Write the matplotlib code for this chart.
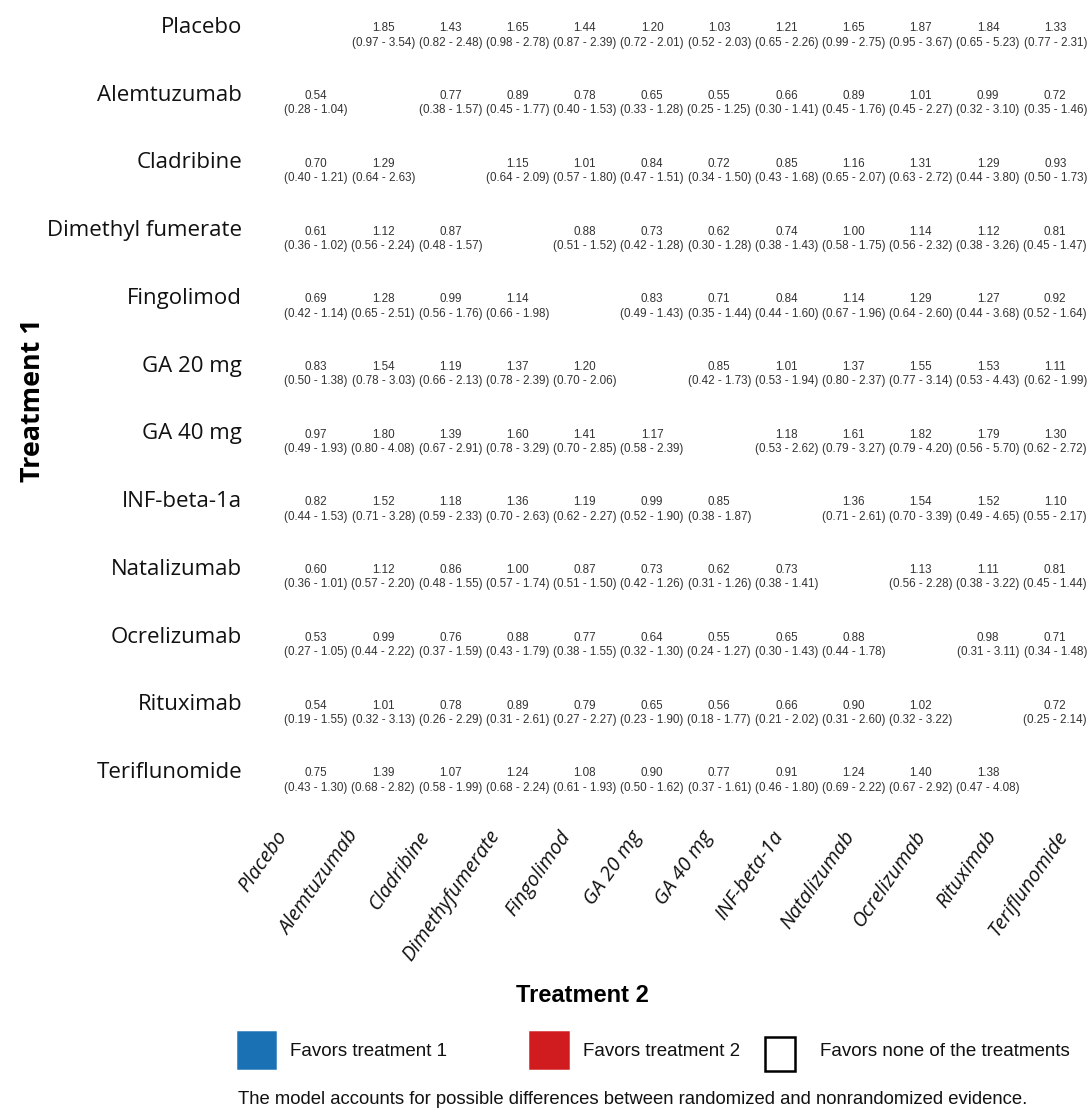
import matplotlib
matplotlib.use("Agg")
import matplotlib.pyplot as plt
from matplotlib.patches import Rectangle
from matplotlib.colors import ListedColormap
import numpy as np

# ---- league table data -------------------------------------------------
treatments = ["Placebo", "Alemtuzumab", "Cladribine", "Dimethyl fumerate",
              "Fingolimod", "GA 20 mg", "GA 40 mg", "INF-beta-1a",
              "Natalizumab", "Ocrelizumab", "Rituximab", "Teriflunomide"]

col_labels = ["Placebo", "Alemtuzumab", "Cladribine", "Dimethyfumerate",
              "Fingolimod", "GA 20 mg", "GA 40 mg", "INF-beta-1a",
              "Natalizumab", "Ocrelizumab", "Rituximab", "Teriflunomide"]

# rate ratio (row treatment vs column treatment); None on the diagonal
estimate = [
    [None, 1.85, 1.43, 1.65, 1.44, 1.20, 1.03, 1.21, 1.65, 1.87, 1.84, 1.33],
    [0.54, None, 0.77, 0.89, 0.78, 0.65, 0.55, 0.66, 0.89, 1.01, 0.99, 0.72],
    [0.70, 1.29, None, 1.15, 1.01, 0.84, 0.72, 0.85, 1.16, 1.31, 1.29, 0.93],
    [0.61, 1.12, 0.87, None, 0.88, 0.73, 0.62, 0.74, 1.00, 1.14, 1.12, 0.81],
    [0.69, 1.28, 0.99, 1.14, None, 0.83, 0.71, 0.84, 1.14, 1.29, 1.27, 0.92],
    [0.83, 1.54, 1.19, 1.37, 1.20, None, 0.85, 1.01, 1.37, 1.55, 1.53, 1.11],
    [0.97, 1.80, 1.39, 1.60, 1.41, 1.17, None, 1.18, 1.61, 1.82, 1.79, 1.30],
    [0.82, 1.52, 1.18, 1.36, 1.19, 0.99, 0.85, None, 1.36, 1.54, 1.52, 1.10],
    [0.60, 1.12, 0.86, 1.00, 0.87, 0.73, 0.62, 0.73, None, 1.13, 1.11, 0.81],
    [0.53, 0.99, 0.76, 0.88, 0.77, 0.64, 0.55, 0.65, 0.88, None, 0.98, 0.71],
    [0.54, 1.01, 0.78, 0.89, 0.79, 0.65, 0.56, 0.66, 0.90, 1.02, None, 0.72],
    [0.75, 1.39, 1.07, 1.24, 1.08, 0.90, 0.77, 0.91, 1.24, 1.40, 1.38, None],
]

ci_low = [
    [None, 0.97, 0.82, 0.98, 0.87, 0.72, 0.52, 0.65, 0.99, 0.95, 0.65, 0.77],
    [0.28, None, 0.38, 0.45, 0.40, 0.33, 0.25, 0.30, 0.45, 0.45, 0.32, 0.35],
    [0.40, 0.64, None, 0.64, 0.57, 0.47, 0.34, 0.43, 0.65, 0.63, 0.44, 0.50],
    [0.36, 0.56, 0.48, None, 0.51, 0.42, 0.30, 0.38, 0.58, 0.56, 0.38, 0.45],
    [0.42, 0.65, 0.56, 0.66, None, 0.49, 0.35, 0.44, 0.67, 0.64, 0.44, 0.52],
    [0.50, 0.78, 0.66, 0.78, 0.70, None, 0.42, 0.53, 0.80, 0.77, 0.53, 0.62],
    [0.49, 0.80, 0.67, 0.78, 0.70, 0.58, None, 0.53, 0.79, 0.79, 0.56, 0.62],
    [0.44, 0.71, 0.59, 0.70, 0.62, 0.52, 0.38, None, 0.71, 0.70, 0.49, 0.55],
    [0.36, 0.57, 0.48, 0.57, 0.51, 0.42, 0.31, 0.38, None, 0.56, 0.38, 0.45],
    [0.27, 0.44, 0.37, 0.43, 0.38, 0.32, 0.24, 0.30, 0.44, None, 0.31, 0.34],
    [0.19, 0.32, 0.26, 0.31, 0.27, 0.23, 0.18, 0.21, 0.31, 0.32, None, 0.25],
    [0.43, 0.68, 0.58, 0.68, 0.61, 0.50, 0.37, 0.46, 0.69, 0.67, 0.47, None],
]

ci_high = [
    [None, 3.54, 2.48, 2.78, 2.39, 2.01, 2.03, 2.26, 2.75, 3.67, 5.23, 2.31],
    [1.04, None, 1.57, 1.77, 1.53, 1.28, 1.25, 1.41, 1.76, 2.27, 3.10, 1.46],
    [1.21, 2.63, None, 2.09, 1.80, 1.51, 1.50, 1.68, 2.07, 2.72, 3.80, 1.73],
    [1.02, 2.24, 1.57, None, 1.52, 1.28, 1.28, 1.43, 1.75, 2.32, 3.26, 1.47],
    [1.14, 2.51, 1.76, 1.98, None, 1.43, 1.44, 1.60, 1.96, 2.60, 3.68, 1.64],
    [1.38, 3.03, 2.13, 2.39, 2.06, None, 1.73, 1.94, 2.37, 3.14, 4.43, 1.99],
    [1.93, 4.08, 2.91, 3.29, 2.85, 2.39, None, 2.62, 3.27, 4.20, 5.70, 2.72],
    [1.53, 3.28, 2.33, 2.63, 2.27, 1.90, 1.87, None, 2.61, 3.39, 4.65, 2.17],
    [1.01, 2.20, 1.55, 1.74, 1.50, 1.26, 1.26, 1.41, None, 2.28, 3.22, 1.44],
    [1.05, 2.22, 1.59, 1.79, 1.55, 1.30, 1.27, 1.43, 1.78, None, 3.11, 1.48],
    [1.55, 3.13, 2.29, 2.61, 2.27, 1.90, 1.77, 2.02, 2.60, 3.22, None, 2.14],
    [1.30, 2.82, 1.99, 2.24, 1.93, 1.62, 1.61, 1.80, 2.22, 2.92, 4.08, None],
]

legend_labels = ["Favors treatment 1", "Favors treatment 2",
                 "Favors none of the treatments"]
legend_colors = ["#1a72b5", "#d01c1f", "white"]
footnote = ("The model accounts for possible differences between "
            "randomized and nonrandomized evidence.")

# ---- figure -------------------------------------------------------------
W, H = 1088, 1113
fig = plt.figure(figsize=(W / 100, H / 100), dpi=100)


def px_box(left, top, right, bottom):
    return [left / W, 1 - bottom / H, (right - left) / W, (bottom - top) / H]


n = len(treatments)
label_font = "Open Sans"
cell_font = "Liberation Sans"

ax = fig.add_axes(px_box(282.4, -8.85, 1088.8, 803.85))

# cell category: 0 = favors row treatment, 1 = favors column, 2 = neither
category = np.full((n, n), 2.0)
for i in range(n):
    for j in range(n):
        lo, hi = ci_low[i][j], ci_high[i][j]
        if lo is None:
            continue
        if hi < 1:
            category[i, j] = 0
        elif lo > 1:
            category[i, j] = 1
cmap = ListedColormap(legend_colors)
ax.imshow(category, cmap=cmap, vmin=-0.5, vmax=2.5, aspect="auto",
          extent=(-0.5, n - 0.5, n - 0.5, -0.5))

for i in range(n):
    for j in range(n):
        if estimate[i][j] is None:
            continue
        ax.text(j, i + 0.05, f"{estimate[i][j]:.2f}", ha="center",
                va="center", fontsize=8.4, family=cell_font, color="#333333",
                clip_on=False)
        ax.text(j, i + 0.26, f"({ci_low[i][j]:.2f} - {ci_high[i][j]:.2f})",
                ha="center", va="center", fontsize=8.4, family=cell_font,
                color="#333333", clip_on=False)

ax.set_xlim(-0.5, n - 0.5)
ax.set_ylim(n - 0.5, -0.5)
ax.set_xticks([])
ax.set_yticks(range(n))
ax.set_yticklabels(treatments, family=label_font, fontsize=16,
                   color="#111111")
ax.tick_params(axis="y", length=0, pad=29)
for s in ax.spines.values():
    s.set_visible(False)

# column labels (Treatment 2)
lab_ax = fig.add_axes(px_box(240, 700, 240 + 70.9 * n, 827))
lab_ax.set_xlim(-0.5, n - 0.5)
lab_ax.set_ylim(0, 1)
lab_ax.axis("off")
for j, name in enumerate(col_labels):
    lab_ax.text(j, 0, name, rotation=55, rotation_mode="anchor", ha="right",
                va="top", fontsize=14.5, family=label_font, style="italic",
                color="#111111")

fig.text(33 / W, 1 - 400 / H, "Treatment 1", rotation=90, ha="center",
         va="center", fontsize=19.4, family=label_font, weight="bold")
fig.text(582 / W, 1 - 996 / H, "Treatment 2", ha="center", va="center",
         fontsize=17, family=cell_font, weight="bold")

# legend
leg_ax = fig.add_axes([0, 0, 1, 1])
leg_ax.set_xlim(0, W)
leg_ax.set_ylim(H, 0)
leg_ax.axis("off")
key_boxes = [(238, 1032, 37, 36), (530, 1032, 38, 36), (765, 1037, 30, 34)]
text_x = [290, 583, 820]
for (x0, y0, w, h), col, lab, tx in zip(key_boxes, legend_colors,
                                        legend_labels, text_x):
    edge = "black" if col == "white" else col
    leg_ax.add_patch(Rectangle((x0, y0), w, h, facecolor=col, edgecolor=edge,
                               linewidth=1.8))
    leg_ax.text(tx, 1052, lab, ha="left", va="center", fontsize=13.5,
                family=cell_font, color="#111111")

leg_ax.text(238, 1100, footnote, ha="left", va="center", fontsize=13.3,
            family=cell_font, color="#111111")

fig.savefig("out.png", dpi=100)
